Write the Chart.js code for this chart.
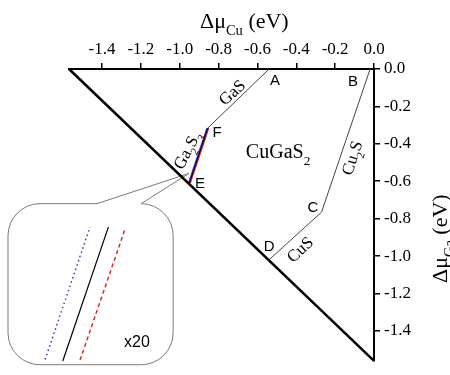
<!DOCTYPE html>
<html>
<head>
<meta charset="utf-8">
<script src="https://cdn.jsdelivr.net/npm/chart.js@4.4.0/dist/chart.umd.min.js"></script>
<style>
    html, body { margin: 0; padding: 0; background: #fff; }
    canvas { display: block; }
</style>
</head>
<body>
<canvas id="phaseChart" width="450" height="375"></canvas>
<script>
// Stability region of CuGaS2 in the (dMu_Cu, dMu_Ga) plane

// axis ticks
var xTicks = [-1.4, -1.2, -1.0, -0.8, -0.6, -0.4, -0.2, 0.0];
var yTicks = [0.0, -0.2, -0.4, -0.6, -0.8, -1.0, -1.2, -1.4];

// triangle limit (dMu_Cu + dMu_Ga = dH)
var limitMuCu = [-1.57, 0.0];
var limitMuGa = [0.0, -1.56];

// corner points of the CuGaS2 region
var cornerNames = ['A', 'B', 'C', 'D', 'E', 'F'];
var cornerMuCu = [-0.54, -0.02, -0.27, -0.54, -0.95, -0.855];
var cornerMuGa = [0.0, 0.0, -0.765, -1.02, -0.61, -0.315];

// the two other Ga2S3 boundaries (blue / red)
var ga2s3BlueMuCu = [-0.954, -0.859];
var ga2s3RedMuCu = [-0.946, -0.851];

// x20 magnified inset (dotted blue, black, dashed red)
var insetBlueMuCu = [-1.693, -1.462];
var insetBlueMuGa = [-1.553, -0.845];
var insetBlackMuCu = [-1.602, -1.367];
var insetBlackMuGa = [-1.561, -0.844];
var insetRedMuCu = [-1.513, -1.282];
var insetRedMuGa = [-1.556, -0.857];

function pt(name) {
    var i = cornerNames.indexOf(name);
    return { x: cornerMuCu[i], y: cornerMuGa[i] };
}
function pairs(xs, ys) {
    return xs.map(function (v, i) { return { x: v, y: ys[i] }; });
}
function seg(data, color, width, dash) {
    return {
        data: data,
        showLine: true,
        borderColor: color,
        borderWidth: width,
        borderDash: dash || [],
        pointRadius: 0,
        clip: false
    };
}

var serif = '"Liberation Serif", "Times New Roman", serif';
var sans = '"Liberation Sans", Arial, sans-serif';
Chart.defaults.font.family = serif;

// text with subscripts, parts = [[text, isSub], ...]
function drawRich(ctx, parts, x, y, rot, size, center) {
    ctx.save();
    ctx.translate(x, y);
    ctx.rotate(rot * Math.PI / 180);
    var sub = size * 0.66;
    var w = 0;
    parts.forEach(function (p) {
        ctx.font = (p[1] ? sub : size) + 'px ' + serif;
        w += ctx.measureText(p[0]).width;
    });
    var cx = center ? -w / 2 : 0;
    var base = center ? size * 0.32 : 0;
    ctx.fillStyle = '#000';
    ctx.textBaseline = 'alphabetic';
    ctx.textAlign = 'left';
    parts.forEach(function (p) {
        ctx.font = (p[1] ? sub : size) + 'px ' + serif;
        ctx.fillText(p[0], cx, base + (p[1] ? size * 0.32 : 0));
        cx += ctx.measureText(p[0]).width;
    });
    ctx.restore();
}

var phaseLabels = [
    { parts: [['GaS', 0]], x: -0.731, y: -0.125, rot: -42, size: 17 },
    { parts: [['Ga', 0], ['2', 1], ['S', 0], ['3', 1]], x: -0.962, y: -0.433, rot: -62, size: 17 },
    { parts: [['CuGaS', 0], ['2', 1]], x: -0.494, y: -0.443, rot: 0, size: 20 },
    { parts: [['Cu', 0], ['2', 1], ['S', 0]], x: -0.113, y: -0.475, rot: -72, size: 17 },
    { parts: [['CuS', 0]], x: -0.381, y: -0.965, rot: -43, size: 17 }
];
var letterPos = {
    A: [-0.510, -0.063], B: [-0.108, -0.068], C: [-0.314, -0.741],
    D: [-0.540, -0.949], E: [-0.896, -0.616], F: [-0.808, -0.344]
};

var decorations = {
    id: 'decorations',
    beforeDatasetsDraw: function (chart) {
        var ctx = chart.ctx;
        var xs = chart.scales.x, ys = chart.scales.y;
        var l = xs.getPixelForValue(-1.884), r = xs.getPixelForValue(-1.034);
        var t = ys.getPixelForValue(-0.720), b = ys.getPixelForValue(-1.581);
        var p1 = xs.getPixelForValue(-1.426), p2 = xs.getPixelForValue(-1.199);
        var tx = xs.getPixelForValue(-0.952), ty = ys.getPixelForValue(-0.558);
        var rad = 32;
        ctx.save();
        ctx.strokeStyle = '#7a7a7a';
        ctx.lineWidth = 1;
        ctx.beginPath();
        ctx.moveTo(p1, t);
        ctx.lineTo(tx, ty);
        ctx.lineTo(p2, t);
        ctx.arcTo(r, t, r, b, rad);
        ctx.arcTo(r, b, l, b, rad);
        ctx.arcTo(l, b, l, t, rad);
        ctx.arcTo(l, t, r, t, rad);
        ctx.closePath();
        ctx.stroke();
        ctx.restore();
    },
    afterDraw: function (chart) {
        var ctx = chart.ctx;
        var xs = chart.scales.x, ys = chart.scales.y;
        phaseLabels.forEach(function (lb) {
            drawRich(ctx, lb.parts, xs.getPixelForValue(lb.x), ys.getPixelForValue(lb.y), lb.rot, lb.size, true);
        });
        ctx.save();
        ctx.fillStyle = '#000';
        ctx.font = '15px ' + sans;
        ctx.textAlign = 'center';
        ctx.textBaseline = 'middle';
        cornerNames.forEach(function (n) {
            ctx.fillText(n, xs.getPixelForValue(letterPos[n][0]), ys.getPixelForValue(letterPos[n][1]));
        });
        ctx.font = '16px ' + sans;
        ctx.fillText('x20', xs.getPixelForValue(-1.220), ys.getPixelForValue(-1.461));
        ctx.restore();
        // axis titles
        drawRich(ctx, [['\u0394\u03bc', 0], ['Cu', 1], [' (eV)', 0]], 200, 28, 0, 22, false);
        drawRich(ctx, [['\u0394\u03bc', 0], ['Ga', 1], [' (eV)', 0]], 447, 283, -90, 22, false);
    }
};

var ctx = document.getElementById('phaseChart').getContext('2d');
var chart = new Chart(ctx, {
    type: 'scatter',
    data: {
        datasets: [
            seg(pairs(limitMuCu, limitMuGa), '#000', 2.5),
            seg([pt('A'), pt('F')], '#444', 1),
            seg([pt('B'), pt('C')], '#444', 1),
            seg([pt('C'), pt('D')], '#444', 1),
            seg([pt('E'), pt('F')], '#000', 1),
            seg(pairs(ga2s3BlueMuCu, [pt('E').y, pt('F').y]), '#2b2bd0', 1.5),
            seg(pairs(ga2s3RedMuCu, [pt('E').y, pt('F').y]), '#e02828', 1.5),
            seg(pairs(insetBlueMuCu, insetBlueMuGa), '#3a3ad8', 1.5, [1.5, 3]),
            seg(pairs(insetBlackMuCu, insetBlackMuGa), '#000', 1.2),
            seg(pairs(insetRedMuCu, insetRedMuGa), '#e02828', 1.5, [4, 3])
        ]
    },
    options: {
        responsive: false,
        animation: false,
        events: [],
        layout: { padding: { left: 69, right: 0, top: 0, bottom: 7 } },
        plugins: {
            legend: { display: false },
            tooltip: { enabled: false }
        },
        scales: {
            x: {
                type: 'linear',
                position: 'top',
                min: -1.57,
                max: 0,
                afterBuildTicks: function (scale) {
                    scale.ticks = xTicks.map(function (v) { return { value: v }; });
                },
                afterFit: function (scale) { scale.height = 69; },
                ticks: {
                    maxRotation: 0,
                    padding: 3,
                    color: '#000',
                    font: { size: 17 },
                    callback: function (v) { return Number(v).toFixed(1); }
                },
                grid: { drawOnChartArea: false, drawTicks: true, tickLength: 6, color: '#000', lineWidth: 1.5 },
                border: { display: true, color: '#000', width: 2 }
            },
            y: {
                type: 'linear',
                position: 'right',
                min: -1.56,
                max: 0,
                afterBuildTicks: function (scale) {
                    scale.ticks = yTicks.map(function (v) { return { value: v }; });
                },
                afterFit: function (scale) { scale.width = 76; },
                ticks: {
                    padding: 4,
                    color: '#000',
                    font: { size: 17 },
                    callback: function (v) { return Number(v).toFixed(1); }
                },
                grid: { drawOnChartArea: false, drawTicks: true, tickLength: 6, color: '#000', lineWidth: 1.5 },
                border: { display: true, color: '#000', width: 2 }
            }
        }
    },
    plugins: [decorations]
});
</script>
</body>
</html>
